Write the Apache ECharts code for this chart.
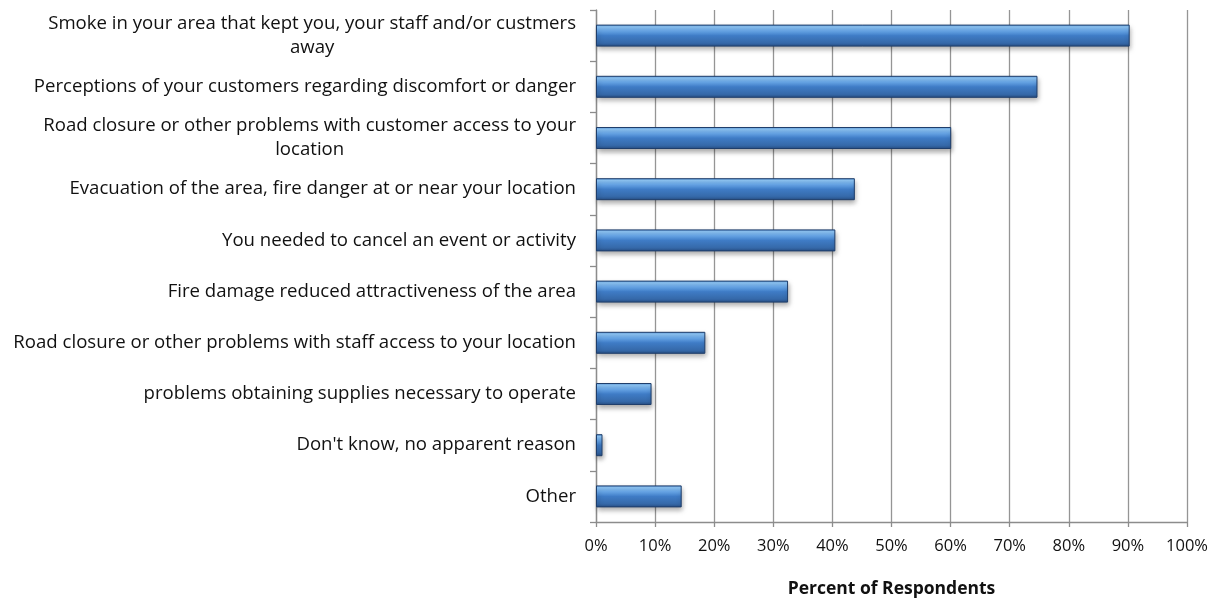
<!DOCTYPE html>
<html><head><meta charset="utf-8">
<script src="https://cdn.jsdelivr.net/npm/echarts@6/dist/echarts.min.js"></script>
<style>html,body{margin:0;padding:0;background:#fff}#c{width:1220px;height:603px}</style>
</head><body><div id="c"></div>
<script>
const categories = [
  "Smoke in your area that kept you, your staff and/or custmers\naway",
  "Perceptions of your customers regarding discomfort or danger",
  "Road closure or other problems with customer access to your\nlocation",
  "Evacuation of the area, fire danger at or near your location",
  "You needed to cancel an event or activity",
  "Fire damage reduced attractiveness of the area",
  "Road closure or other problems with staff access to your location",
  "problems obtaining supplies necessary to operate",
  "Don't know, no apparent reason",
  "Other"
];
const values = [90.3, 74.7, 60.1, 43.8, 40.5, 32.5, 18.5, 9.4, 1.1, 14.5];
const xTicks = [0,10,20,30,40,50,60,70,80,90,100];
const xTitle = "Percent of Respondents";

const FONT = "Open Sans";
const LF = 18.6;
const chart = echarts.init(document.getElementById('c'), null, {renderer:'canvas'});
chart.setOption({
  animation:false,
  grid:{left:596, right:33, top:10, bottom:72, containLabel:false},
  xAxis:{
    type:'value', min:xTicks[0], max:xTicks[xTicks.length-1], interval:10,
    name:xTitle, nameLocation:'middle', nameGap:58,
    nameTextStyle:{fontFamily:FONT, fontWeight:'bold', fontSize:17.5, color:'#111'},
    axisLine:{show:true, lineStyle:{color:'#8c8c8c', width:1.3}},
    axisTick:{show:true, length:5, lineStyle:{color:'#8c8c8c', width:1.3}},
    axisLabel:{formatter:v=>v+'%', fontFamily:FONT, fontSize:16.5, color:'#111', margin:16},
    splitLine:{show:true, lineStyle:{color:'#959595', width:1.3}}
  },
  yAxis:{
    type:'category', data:categories, inverse:true,
    axisLine:{show:true, lineStyle:{color:'#8c8c8c', width:1.3}},
    axisTick:{show:true, length:6, inside:false, lineStyle:{color:'#8c8c8c', width:1.3}},
    axisLabel:{
      fontFamily:FONT, fontSize:LF, color:'#111', margin:20, lineHeight:24,
      formatter:function(v){ return v.split('\n').map(s=>'{c|'+s+'}').join('\n'); },
      rich:{c:{align:'center', fontFamily:FONT, fontSize:LF, color:'#111', lineHeight:24}}
    }
  },
  series:[{
    type:'bar', data:values, barWidth:22,
    itemStyle:{
      color:new echarts.graphic.LinearGradient(0,0,0,1,[
        {offset:0, color:'#4f8fd9'},
        {offset:0.1, color:'#90c8f8'},
        {offset:0.28, color:'#6aa9eb'},
        {offset:0.5, color:'#3f7cc6'},
        {offset:0.85, color:'#3568a8'},
        {offset:1, color:'#264d82'}
      ]),
      borderColor:'#1f3e6b', borderWidth:1,
      shadowBlur:5, shadowOffsetY:3, shadowOffsetX:1, shadowColor:'rgba(0,0,0,0.35)'
    }
  }]
});
</script></body></html>
